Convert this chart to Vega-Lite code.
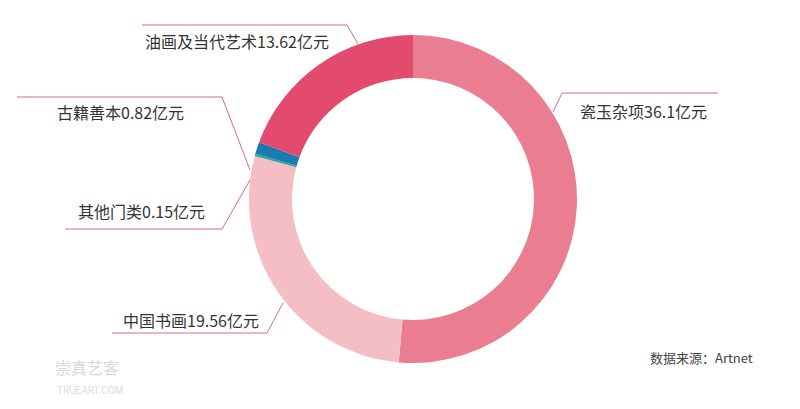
{
  "$schema": "https://vega.github.io/schema/vega-lite/v6.json",
  "width": 774,
  "height": 398,
  "autosize": {"type": "none"},
  "padding": {"left": 26, "top": 0, "right": 0, "bottom": 11},
  "background": "#ffffff",
  "config": {"view": {"stroke": null}},
  "datasets": {
    "slices": [
      {"category": "瓷玉杂项", "value": 36.1, "order": 1},
      {"category": "中国书画", "value": 19.56, "order": 2},
      {"category": "其他门类", "value": 0.15, "order": 3},
      {"category": "古籍善本", "value": 0.82, "order": 4},
      {"category": "油画及当代艺术", "value": 13.62, "order": 5}
    ],
    "leaders": [
      {"g": "油画", "i": 1, "x": -271, "y": 174},
      {"g": "油画", "i": 2, "x": -66, "y": 174},
      {"g": "油画", "i": 3, "x": -55, "y": 155},
      {"g": "古籍", "i": 1, "x": -396, "y": 102},
      {"g": "古籍", "i": 2, "x": -191, "y": 102},
      {"g": "古籍", "i": 3, "x": -163, "y": 29},
      {"g": "其他", "i": 1, "x": -163, "y": 19},
      {"g": "其他", "i": 2, "x": -191, "y": -30},
      {"g": "其他", "i": 3, "x": -348, "y": -30},
      {"g": "瓷玉", "i": 1, "x": 140, "y": 87},
      {"g": "瓷玉", "i": 2, "x": 149, "y": 106},
      {"g": "瓷玉", "i": 3, "x": 305, "y": 106},
      {"g": "书画", "i": 1, "x": -130, "y": -104},
      {"g": "书画", "i": 2, "x": -146, "y": -134},
      {"g": "书画", "i": 3, "x": -301, "y": -134}
    ],
    "labels": [
      {"text": "油画及当代艺术13.62亿元", "x": -268, "y": 156},
      {"text": "古籍善本0.82亿元", "x": -356, "y": 85},
      {"text": "其他门类0.15亿元", "x": -335, "y": -14},
      {"text": "瓷玉杂项36.1亿元", "x": 167, "y": 86},
      {"text": "中国书画19.56亿元", "x": -290, "y": -123}
    ],
    "source": [
      {"text": "数据来源：Artnet", "x": 237, "y": -160}
    ],
    "wm1": [
      {"text": "崇真艺客", "x": -358, "y": -170}
    ],
    "wm2": [
      {"text": "TRUEART.COM", "x": -356, "y": -192}
    ]
  },
  "layer": [
    {
      "data": {"name": "slices"},
      "mark": {"type": "arc", "outerRadius": 164, "innerRadius": 121, "stroke": null},
      "encoding": {
        "theta": {"field": "value", "type": "quantitative", "stack": true},
        "order": {"field": "order", "type": "quantitative"},
        "color": {
          "field": "category",
          "type": "nominal",
          "legend": null,
          "scale": {
            "domain": ["瓷玉杂项", "中国书画", "其他门类", "古籍善本", "油画及当代艺术"],
            "range": ["#EA7E90", "#F5BEC4", "#2AA88E", "#1A7BB0", "#E24A6E"]
          }
        }
      }
    },
    {
      "data": {"name": "leaders"},
      "mark": {"type": "line", "color": "#CF6F86", "strokeWidth": 1},
      "encoding": {
        "x": {"field": "x", "type": "quantitative", "scale": {"domain": [-387, 387]}, "axis": null},
        "y": {"field": "y", "type": "quantitative", "scale": {"domain": [-199, 199]}, "axis": null},
        "detail": {"field": "g", "type": "nominal"},
        "order": {"field": "i", "type": "quantitative"}
      }
    },
    {
      "data": {"name": "labels"},
      "mark": {"type": "text", "align": "left", "baseline": "middle", "font": "Noto Sans CJK SC", "fontSize": 16, "color": "#333333"},
      "encoding": {
        "x": {"field": "x", "type": "quantitative", "scale": {"domain": [-387, 387]}, "axis": null},
        "y": {"field": "y", "type": "quantitative", "scale": {"domain": [-199, 199]}, "axis": null},
        "text": {"field": "text"}
      }
    },
    {
      "data": {"name": "source"},
      "mark": {"type": "text", "align": "left", "baseline": "middle", "font": "Noto Sans CJK SC", "fontSize": 13, "color": "#444444"},
      "encoding": {
        "x": {"field": "x", "type": "quantitative", "scale": {"domain": [-387, 387]}, "axis": null},
        "y": {"field": "y", "type": "quantitative", "scale": {"domain": [-199, 199]}, "axis": null},
        "text": {"field": "text"}
      }
    },
    {
      "data": {"name": "wm1"},
      "mark": {"type": "text", "align": "left", "baseline": "middle", "font": "Noto Sans CJK SC", "fontSize": 16, "color": "#D8D8D8"},
      "encoding": {
        "x": {"field": "x", "type": "quantitative", "scale": {"domain": [-387, 387]}, "axis": null},
        "y": {"field": "y", "type": "quantitative", "scale": {"domain": [-199, 199]}, "axis": null},
        "text": {"field": "text"}
      }
    },
    {
      "data": {"name": "wm2"},
      "mark": {"type": "text", "align": "left", "baseline": "middle", "font": "Roboto", "fontSize": 10, "color": "#DDDDDD"},
      "encoding": {
        "x": {"field": "x", "type": "quantitative", "scale": {"domain": [-387, 387]}, "axis": null},
        "y": {"field": "y", "type": "quantitative", "scale": {"domain": [-199, 199]}, "axis": null},
        "text": {"field": "text"}
      }
    }
  ]
}
